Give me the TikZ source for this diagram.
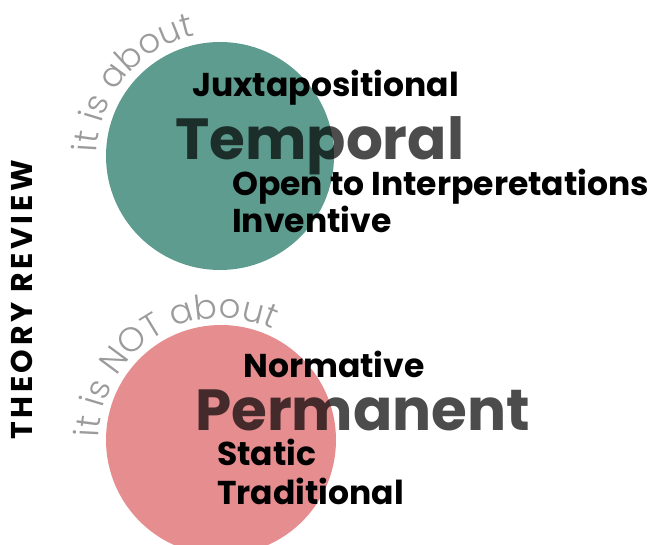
\documentclass[tikz,border=0pt]{standalone}
\usepackage{fontspec}
\setmainfont{Poppins}
\newfontfamily\lightfont{Poppins Light}
\usetikzlibrary{positioning,calc,decorations.text}
\definecolor{ReviewTeal}{HTML}{5E9C8F}
\definecolor{ReviewRose}{HTML}{E68D8F}
\definecolor{ReviewGray}{HTML}{9B9B9B}

\begin{document}
\begin{tikzpicture}[x=1pt,y=1pt,
    word/.style={font=\fontsize{33}{38}\selectfont\bfseries, anchor=base west, inner sep=0pt},
    keyword/.style={font=\fontsize{58}{66}\selectfont\bfseries, anchor=base west, inner sep=0pt, text opacity=0.7},
    arcword/.style={decorate, decoration={text along path, text align=center, text color=ReviewGray}}]
        \clip (0,0) rectangle (672,544);
        
        % Circles
        \coordinate (aboutc) at (220,388);
        \coordinate (notc) at (221,104);
        \fill[ReviewTeal] (aboutc) circle[radius=114];
        \fill[ReviewRose] (notc) circle[radius=115];
        
        % Side title
        \node[font=\fontsize{30}{32}\selectfont\bfseries\addfontfeature{LetterSpace=12}, rotate=90, inner sep=0pt] (review) at (22,244) {THEORY REVIEW};
        
        % Curved labels
        \coordinate (aboutarc) at ($(aboutc)+(190:123)$);
        \path[arcword, decoration={text={|\lightfont\fontsize{34}{38}\selectfont|it is about}}]
          (aboutarc) arc[start angle=190, end angle=90, radius=123];
        \coordinate (notarc) at ($(notc)+(182:122)$);
        \path[arcword, decoration={text={|\lightfont\fontsize{34}{38}\selectfont|it is NOT about}}]
          (notarc) arc[start angle=182, end angle=62, radius=122];
        
        % Top group
        \node[word] (juxta) at (192,447) {Juxtapositional};
        \node[keyword] (temporal) at (175,384) {Temporal};
        \node[word] (openinterp) at (232,348) {Open to Interperetations};
        \node[word] (inventive) at (232,311) {Inventive};
        
        % Bottom group
        \node[word] (normative) at (243,167) {Normative};
        \node[keyword] (permanent) at (195,114) {Permanent};
        \node[word] (static) at (217,79) {Static};
        \node[word] (traditional) at (217,40) {Traditional};
\end{tikzpicture}
\end{document}
